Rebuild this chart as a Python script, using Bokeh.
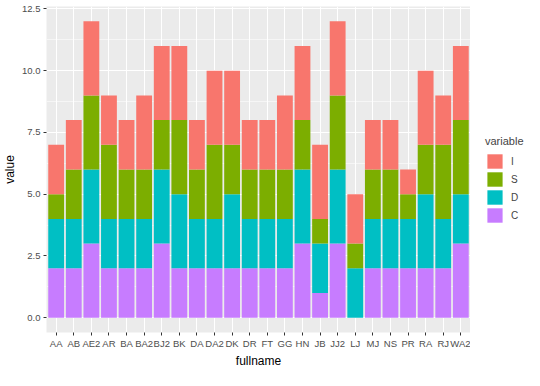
from bokeh.plotting import figure
from bokeh.layouts import row
from bokeh.models import (ColumnDataSource, FactorRange, FixedTicker, PrintfTickFormatter,
                          Legend, LegendItem, Range1d)
from bokeh.embed import file_html
from bokeh.resources import INLINE

fullname = ["AA", "AB", "AE2", "AR", "BA", "BA2", "BJ2", "BK", "DA", "DA2", "DK", "DR",
            "FT", "GG", "HN", "JB", "JJ2", "LJ", "MJ", "NS", "PR", "RA", "RJ", "WA2"]
C = [2, 2, 3, 2, 2, 2, 3, 2, 2, 2, 2, 2, 2, 2, 3, 1, 3, 0, 2, 2, 2, 2, 2, 3]
D = [2, 2, 3, 2, 2, 2, 3, 3, 2, 2, 3, 2, 2, 2, 3, 2, 3, 2, 2, 2, 2, 3, 2, 2]
S = [1, 2, 3, 3, 2, 2, 2, 3, 2, 3, 2, 2, 2, 2, 2, 1, 3, 1, 2, 2, 1, 2, 3, 3]
I = [2, 2, 3, 2, 2, 3, 3, 3, 2, 3, 3, 2, 2, 3, 3, 3, 3, 2, 2, 2, 1, 3, 2, 3]

variables = ["C", "D", "S", "I"]
colors = ["#C77CFF", "#00BFC4", "#7CAE00", "#F8766D"]
y_ticks = [0, 2.5, 5, 7.5, 10, 12.5]
y_minor = [1.25, 3.75, 6.25, 8.75, 11.25]

source = ColumnDataSource(dict(fullname=fullname, C=C, D=D, S=S, I=I))

FONT = "Liberation Sans"
x_range = FactorRange(factors=fullname, range_padding=0.1 / len(fullname),
                      range_padding_units="percent")

p = figure(x_range=x_range, y_range=Range1d(-0.6, 12.6), width=470, height=370,
           output_backend="svg", toolbar_location=None,
           min_border_left=43, min_border_right=0, min_border_top=6, min_border_bottom=0)

p.vbar_stack(variables, x="fullname", width=0.9, color=colors,
             line_color=None, source=source)

p.background_fill_color = "#EBEBEB"
p.border_fill_color = "white"
p.outline_line_color = None

# grids
p.xgrid.grid_line_color = "white"
p.xgrid.grid_line_width = 1.1
p.ygrid.grid_line_color = "white"
p.ygrid.grid_line_width = 1.1
p.ygrid.minor_grid_line_color = "white"
p.ygrid.minor_grid_line_width = 0.55

# axes
p.yaxis.ticker = FixedTicker(ticks=y_ticks, minor_ticks=y_minor)
p.yaxis.formatter = PrintfTickFormatter(format="%.1f")
for ax in (p.xaxis[0], p.yaxis[0]):
    ax.axis_line_color = None
    ax.major_tick_line_color = "#333333"
    ax.major_tick_out = 3
    ax.major_tick_in = 0
    ax.minor_tick_line_color = None
    ax.major_label_text_font = FONT
    ax.major_label_text_font_size = "9.5px"
    ax.major_label_text_color = "#4D4D4D"
    ax.major_label_standoff = 2
    ax.axis_label_text_font = FONT
    ax.axis_label_text_font_size = "12px"
    ax.axis_label_text_font_style = "normal"
    ax.axis_label_text_color = "black"
    ax.axis_label_standoff = 2
p.xaxis.axis_label = "fullname"
p.yaxis.axis_label = "value"

# legend panel (order I, S, D, C); its key bars are hair-thin and outside its range
pl = figure(width=54, height=370, x_range=FactorRange(factors=fullname),
            y_range=Range1d(100, 101),
            x_axis_type=None, y_axis_type=None, output_backend="svg",
            toolbar_location=None, min_border_left=0, min_border_right=0,
            min_border_top=0, min_border_bottom=0)
pl.outline_line_color = None
pl.xgrid.visible = False
pl.ygrid.visible = False
pl.background_fill_color = "white"
pl.border_fill_color = "white"

key_renderers = pl.vbar_stack(variables, x="fullname", width=0.01, color=colors,
                              line_color=None, source=source)
items = [LegendItem(label=v, renderers=[r]) for v, r in zip(variables, key_renderers)][::-1]
legend = Legend(items=items, title="variable", location=(15, 108),
                padding=0, margin=0, spacing=0, glyph_width=19, glyph_height=18,
                label_text_font=FONT, label_text_font_size="10px",
                title_text_font=FONT, title_text_font_size="11px",
                title_text_font_style="normal", title_standoff=5,
                label_standoff=7, border_line_color=None, background_fill_alpha=0)
pl.add_layout(legend, "center")

layout = row(p, pl)
open("out.html", "w").write(file_html(layout, INLINE))
